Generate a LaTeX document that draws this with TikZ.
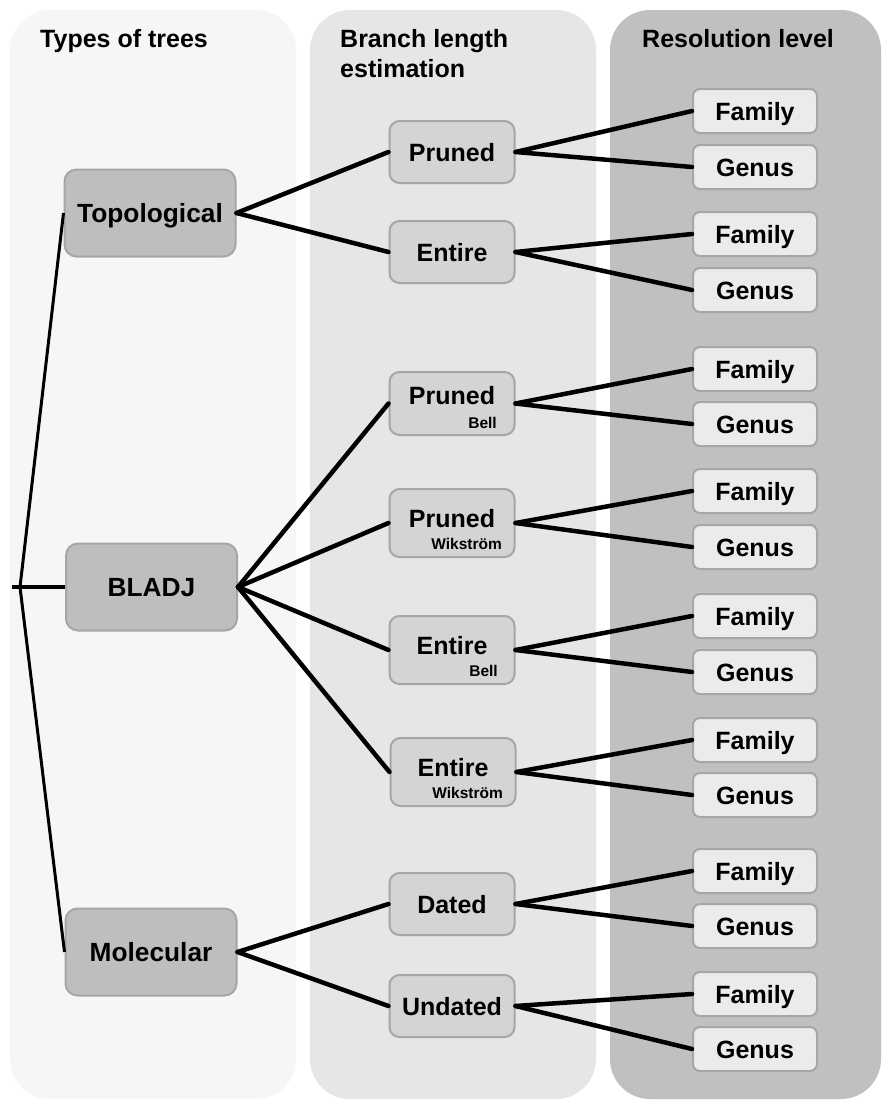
\documentclass[tikz,border=0pt]{standalone}
\usepackage{fontspec}
\setmainfont{Liberation Sans}
\definecolor{panA}{HTML}{F6F6F6}
\definecolor{panB}{HTML}{E6E6E6}
\definecolor{panC}{HTML}{C0C0C0}
\definecolor{typefill}{HTML}{BEBEBE}
\definecolor{midfill}{HTML}{D4D4D4}
\definecolor{resfill}{HTML}{EBEBEB}
\definecolor{bordergray}{HTML}{A6A6A6}
\newcommand\lab{\fontsize{25}{30}\selectfont\bfseries}
\newcommand\biglab{\fontsize{26.3}{30}\selectfont\bfseries}
\newcommand\sublab{\fontsize{15.5}{18}\selectfont\bfseries}
\tikzset{
  panel/.style={rounded corners=40pt, draw=none},
  typebox/.style={draw=bordergray, fill=typefill, rounded corners=12pt, line width=2pt,
    minimum width=171pt, minimum height=87pt, inner sep=0pt, font=\biglab,
    text height=18.8pt, text depth=0pt},
  midbox/.style={draw=bordergray, fill=midfill, rounded corners=10pt, line width=2pt,
    minimum width=125pt, minimum height=62pt, inner sep=0pt, font=\lab,
    text height=18pt, text depth=0pt},
  midsub/.style={midbox, minimum height=68pt},
  resbox/.style={draw=bordergray, fill=resfill, rounded corners=7pt, line width=2pt,
    minimum width=124pt, minimum height=44pt, inner sep=0pt, font=\lab,
    text height=18pt, text depth=0pt},
  head/.style={font=\lab, anchor=base west, inner sep=0pt, align=left},
  txt/.style={font=\lab, inner sep=0pt, text height=18pt, text depth=0pt},
  sub/.style={font=\sublab, inner sep=0pt, anchor=base east},
  conn/.style={line width=4.5pt, line cap=round},
  rootline/.style={line width=3pt},
}
\begin{document}
\begin{tikzpicture}[x=1pt, y=-1pt]
\useasboundingbox (0,0) rectangle (883,1101);
\fill[white] (0,0) rectangle (883,1101);
% panels
\fill[panA, panel] (10,10) rectangle (296,1099);
\fill[panB, panel] (310,10) rectangle (596,1099);
\fill[panC, panel] (610,10) rectangle (881,1099);
% headers
\node[head] (h1) at (40,47) {Types of trees};
\node[head] (h2) at (340,47) {Branch length};
\node[head] (h2b) at (340,77) {estimation};
\node[head] (h3) at (642,47) {Resolution level};
% type nodes
\node[typebox] (topo) at (150,213) {Topological};
\node[typebox] (bladj) at (151.5,587) {BLADJ};
\node[typebox] (mol) at (151,952) {Molecular};
% middle nodes
\node[midbox] (pr1) at (452,152) {Pruned};
\node[midbox] (en1) at (452,252) {Entire};
\node[midbox, minimum height=63pt] (prb) at (452,403.5) {};
\node[txt] at (452,395) {Pruned};
\node[sub] at (497,428) {Bell};
\node[midsub] (prw) at (452,523) {};
\node[txt] at (452,518) {Pruned};
\node[sub] at (502,549) {Wikström};
\node[midsub] (enb) at (452,650) {};
\node[txt] at (452,645) {Entire};
\node[sub] at (498,676) {Bell};
\node[midsub] (enw) at (453,772) {};
\node[txt] at (453,767) {Entire};
\node[sub] at (503,798) {Wikström};
\node[midbox] (dat) at (452,904) {Dated};
\node[midbox] (und) at (452,1006) {Undated};
% resolution nodes
\foreach \n/\y in {1/111,2/234,3/369,4/491,5/616,6/740,7/871,8/994}{
  \node[resbox] (f\n) at (755,\y) {Family};
}
\foreach \n/\y in {1/167,2/290,3/424,4/547,5/672,6/795,7/926,8/1049}{
  \node[resbox] (g\n) at (755,\y) {Genus};
}
% root
\coordinate (rootL) at (12,587);
\coordinate (root) at (20,587);
\draw[line width=4pt] (rootL) -- (bladj.west);
\draw[rootline] (root) -- (topo.west);
\draw[rootline] (root) -- (mol.west);
% type -> middle
\draw[conn] (topo.east) -- (pr1.west);
\draw[conn] (topo.east) -- (en1.west);
\draw[conn] (bladj.east) -- (prb.west);
\draw[conn] (bladj.east) -- (prw.west);
\draw[conn] (bladj.east) -- (enb.west);
\draw[conn] (bladj.east) -- (enw.west);
\draw[conn] (mol.east) -- (dat.west);
\draw[conn] (mol.east) -- (und.west);
% middle -> resolution
\foreach \m/\n in {pr1/1,en1/2,prb/3,prw/4,enb/5,enw/6,dat/7,und/8}{
  \draw[conn] (\m.east) -- (f\n.west);
  \draw[conn] (\m.east) -- (g\n.west);
}
\end{tikzpicture}
\end{document}
